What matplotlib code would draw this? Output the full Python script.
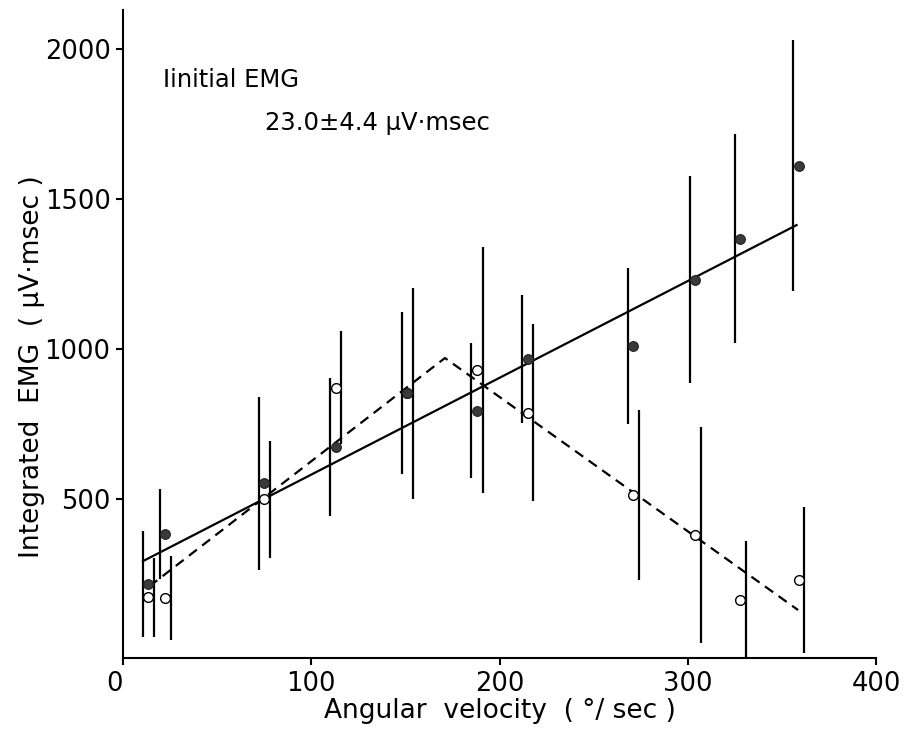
import numpy as np
import matplotlib
matplotlib.use("Agg")
import matplotlib.pyplot as plt

plt.rcParams['font.family'] = ['DejaVu Sans']

# angular velocity (deg/sec) of each test condition
velocity = [13.5, 22.5, 75, 113, 151, 188, 215, 271, 304, 328, 359]

# filled circles: mean and SD of integrated EMG (uV.msec)
filled_mean = [217, 383, 552, 672, 854, 794, 967, 1010, 1231, 1367, 1611]
filled_sd = [176, 149, 288, 230, 270, 225, 213, 260, 344, 348, 418]

# open circles
open_mean = [172, 170, 500, 871, 853, 930, 788, 513, 380, 163, 230]
open_sd = [132, 140, 195, 188, 352, 410, 296, 283, 359, 198, 244]

# fitted lines
solid_x = [10.6, 357.8]
solid_y = [293, 1413]
dash_x = [14, 171, 358.6]
dash_y = [209, 970, 130]

xticks = [0, 100, 200, 300, 400]
yticks = [500, 1000, 1500, 2000]

fig = plt.figure(figsize=(9.06, 7.34), dpi=100)
ax = fig.add_axes([0.1358, 0.1035, 0.8311, 0.8829])

vel = np.array(velocity)
fm = np.array(filled_mean)
fs = np.array(filled_sd)
om = np.array(open_mean)
osd = np.array(open_sd)

# SD bars drawn slightly beside each point, as in the original figure
ax.vlines(vel - 3, fm - fs, fm + fs, color='black', linewidth=1.6, zorder=2)
ax.vlines(vel + 3, om - osd, om + osd, color='black', linewidth=1.6, zorder=2)

ax.plot(solid_x, solid_y, color='black', linewidth=1.6, zorder=1)
ax.plot(dash_x, dash_y, color='black', linewidth=1.6, dashes=(4.5, 3), zorder=1)

ax.plot(vel, om, 'o', markersize=7, markerfacecolor='white',
        markeredgecolor='black', markeredgewidth=1.0, zorder=3)
ax.plot(vel, fm, 'o', markersize=7, markerfacecolor='#3a3a3a',
        markeredgecolor='#222222', markeredgewidth=0.8, zorder=4)

ax.set_xlim(0, 400)
ax.set_ylim(-30, 2130)
ax.set_xticks(xticks)
ax.set_yticks(yticks)
ax.tick_params(direction='out', length=5, width=1.5, labelsize=18.5, pad=4)
ax.get_xticklabels()[0].set_horizontalalignment('right')
for side in ['top', 'right']:
    ax.spines[side].set_visible(False)
for side in ['left', 'bottom']:
    ax.spines[side].set_linewidth(1.5)

ax.set_xlabel('Angular  velocity  ( °/ sec )', fontsize=19, labelpad=1)
ax.set_ylabel('Integrated  EMG  ( µV·msec )', fontsize=19)
ax.yaxis.set_label_coords(-0.104, 0.45)

ax.text(21, 1897, 'Iinitial EMG', fontsize=17.5, va='center', ha='left')
ax.text(75.4, 1753, '23.0±4.4 µV·msec', fontsize=17.5, va='center', ha='left')

fig.savefig('out.png', dpi=100)
